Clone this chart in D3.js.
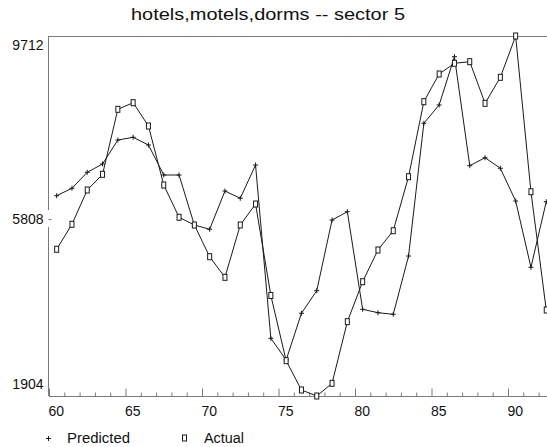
<!DOCTYPE html>
<html>
<head>
<meta charset="utf-8">
<script src="https://cdn.jsdelivr.net/npm/d3@7/dist/d3.min.js"></script>
<style>
  html, body { margin: 0; padding: 0; background: #fff; }
  svg { display: block; }
  text { font-family: "Liberation Sans", Arial, sans-serif; fill: #111; }
</style>
</head>
<body>
<svg id="chart" width="547" height="447"></svg>
<script>
// Hotels, motels, dorms construction — sector 5, yearly (19)60–92
const years = d3.range(60, 93);
const predicted = [6248, 6409, 6756, 6936, 7456, 7515, 7348, 6697, 6697, 5613,
                   5520, 6350, 6192, 6914, 3155, 2685, 3698, 4188, 5721, 5901,
                   3784, 3711, 3676, 4940, 7819, 8216, 9263, 6899, 7072, 6843,
                   6133, 4695, 6118];
const actual = [5086, 5628, 6372, 6712, 8122, 8265, 7760, 6480, 5780, 5613,
                4925, 4478, 5613, 6068, 4084, 2670, 2034, 1904, 2179, 3516,
                4383, 5071, 5489, 6660, 8287, 8888, 9120, 9155, 8252, 8816,
                9712, 6335, 3769];
const yTicks = [9712, 5808, 1904];
const xMajor = [60, 65, 70, 75, 80, 85, 90];
const titleText = "hotels,motels,dorms -- sector 5";
const legendLabels = ["Predicted", "Actual"];

const svg = d3.select("#chart");
const plotLeft = 49, plotTop = 36, plotBottom = 396, pxPerYear = 15.3;

const x = d3.scaleLinear().domain([60, 93]).range([plotLeft, plotLeft + 33 * pxPerYear]);
const y = d3.scaleLinear().domain([1904, 9712]).range([plotBottom, plotTop]);
// each yearly value sits in the middle of its year
const xp = yr => x(yr + 0.5);

const frame = "#7a7a7a";
const ink = "#1a1a1a";

// title
svg.append("text")
  .attr("x", 268).attr("y", 20)
  .attr("text-anchor", "middle")
  .attr("font-size", 17)
  .attr("textLength", 274)
  .attr("lengthAdjust", "spacingAndGlyphs")
  .text(titleText);

// top frame line
svg.append("line")
  .attr("x1", plotLeft).attr("x2", 547)
  .attr("y1", plotTop + 0.5).attr("y2", plotTop + 0.5)
  .attr("stroke", frame);

// bottom axis: a tick every year, longer ones every five years
const xAxis = d3.axisBottom(x)
  .tickValues(years)
  .tickSize(-4)
  .tickFormat(d => xMajor.includes(d) ? d : "");
const gx = svg.append("g")
  .attr("transform", `translate(0,${plotBottom + 0.5})`)
  .call(xAxis);
gx.select(".domain").attr("d", `M${plotLeft},0H547`).attr("stroke", frame);
gx.selectAll(".tick line")
  .attr("stroke", frame)
  .attr("y2", d => xMajor.includes(d) ? -8 : -4);
gx.selectAll(".tick text")
  .attr("text-anchor", "start")
  .attr("y", 0).attr("dy", 0)
  .attr("transform", "translate(-1,19)")
  .attr("font-size", 14)
  .attr("font-family", "Liberation Sans, Arial, sans-serif")
  .attr("fill", "#111");

// left axis, broken around the middle label
const yAxis = d3.axisLeft(y).tickValues(yTicks).tickSize(0).tickPadding(5)
  .tickFormat(d3.format("d"));
const gy = svg.append("g").attr("transform", `translate(${plotLeft - 0.5},0)`).call(yAxis);
gy.select(".domain").remove();
gy.selectAll(".tick text")
  .attr("font-size", 14)
  .attr("font-family", "Liberation Sans, Arial, sans-serif")
  .attr("fill", "#111")
  .attr("dy", d => d === 9712 ? "0.95em" : d === 5808 ? "0.55em" : "-0.55em");
const mid = y(5808);
gy.append("path")
  .attr("d", `M0,${plotTop}V${mid - 6}M0,${mid + 11}V${plotBottom}`)
  .attr("stroke", frame).attr("fill", "none");
gy.append("line")
  .attr("x1", 0).attr("x2", 3)
  .attr("y1", mid + 3.5).attr("y2", mid + 3.5)
  .attr("stroke", frame);

// series lines
const line = d3.line().x((d, i) => xp(years[i])).y(d => y(d));
const plot = svg.append("g");
plot.append("path").datum(predicted).attr("d", line)
  .attr("fill", "none").attr("stroke", ink).attr("stroke-width", 1);
plot.append("path").datum(actual).attr("d", line)
  .attr("fill", "none").attr("stroke", ink).attr("stroke-width", 1);

// markers: plus for predicted, small box for actual
const plus = (g, cx, cy) => g.append("path")
  .attr("d", `M${cx - 2.5},${cy}H${cx + 2.5}M${cx},${cy - 2.5}V${cy + 2.5}`)
  .attr("stroke", ink).attr("fill", "none");
const box = (g, cx, cy) => g.append("rect")
  .attr("x", cx - 2).attr("y", cy - 3)
  .attr("width", 4).attr("height", 6)
  .attr("fill", "#fff").attr("stroke", ink);

predicted.forEach((v, i) => plus(plot, xp(years[i]), y(v)));
actual.forEach((v, i) => box(plot, xp(years[i]), y(v)));

// legend
const lg = svg.append("g");
plus(lg, 48.5, 438.5);
lg.append("text").attr("x", 67).attr("y", 443).attr("font-size", 14)
  .attr("textLength", 63).attr("lengthAdjust", "spacingAndGlyphs")
  .text(legendLabels[0]);
box(lg, 184.5, 438);
lg.append("text").attr("x", 204).attr("y", 443).attr("font-size", 14)
  .attr("textLength", 40).attr("lengthAdjust", "spacingAndGlyphs")
  .text(legendLabels[1]);
</script>
</body>
</html>
